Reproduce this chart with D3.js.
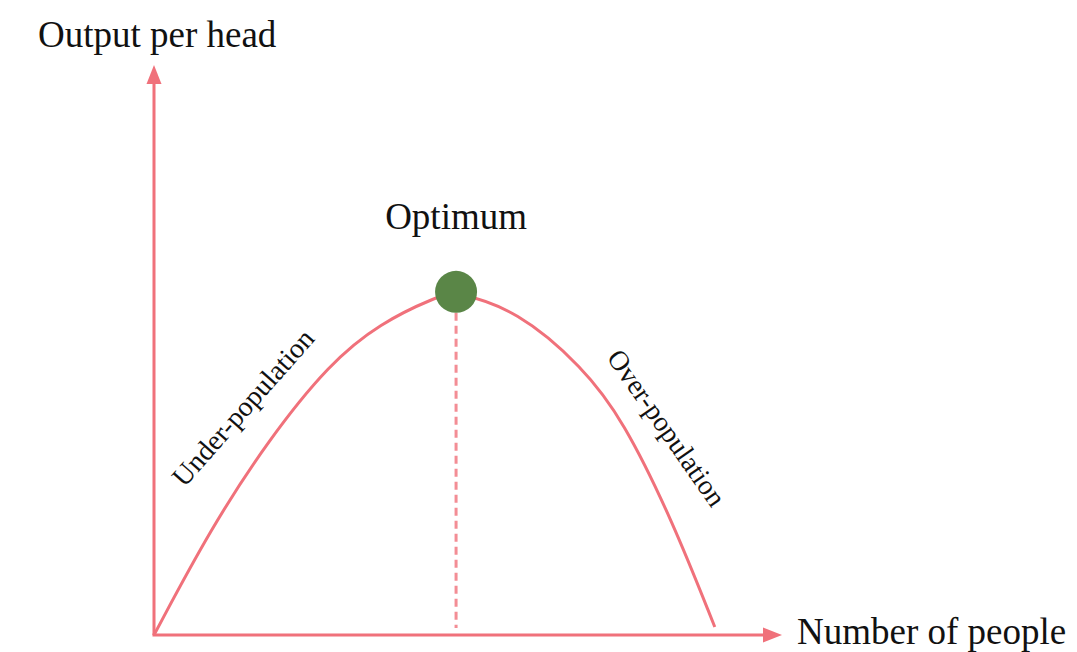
<!DOCTYPE html>
<html lang="en">
<head>
  <meta charset="UTF-8" />
  <title>Optimum population</title>
  <script src="https://d3js.org/d3.v7.min.js"></script>
  <style>
    body { margin: 0; background: #fff; }
    svg { display: block; }
    text { font-family: "Liberation Serif", "Times New Roman", serif; fill: #111; }
  </style>
</head>
<body>
  <svg width="1077" height="652"></svg>
  <script>
    // number of people (x) and output per head (y)
    const population = [0, 9.1, 18.2, 28.0, 36.0, 44.9, 48.1, 57.8, 68.3, 74.7, 82.5, 89.3];
    const output     = [0, 18.8, 34.2, 47.7, 54.7, 59.3, 60.2, 57.0, 47.0, 37.7, 20.2, 1.4];
    const peakIndex = 6;

    const axisLabels = ["Output per head", "Number of people"];
    const curveLabels = ["Under-population", "Over-population"];
    const peakLabel = "Optimum";

    const pink = "#f0717b";
    const green = "#5a8647";

    const svg = d3.select("svg");
    const x = d3.scaleLinear().domain([0, 100]).range([154, 782]);
    const y = d3.scaleLinear().domain([0, 100]).range([635, 65]);

    const points = population.map((p, i) => ({ p, o: output[i] }));

    // axes with arrow heads
    svg.append("line")
      .attr("x1", x(0)).attr("y1", y(0))
      .attr("x2", x(0)).attr("y2", y(100) + 16)
      .attr("stroke", pink).attr("stroke-width", 3);
    svg.append("line")
      .attr("x1", x(0) - 1.5).attr("y1", y(0))
      .attr("x2", x(100) - 16).attr("y2", y(0))
      .attr("stroke", pink).attr("stroke-width", 3);
    svg.append("path")
      .attr("d", `M${x(0)},${y(100)} L${x(0) - 7.5},${y(100) + 19} L${x(0) + 7.5},${y(100) + 19}Z`)
      .attr("fill", pink);
    svg.append("path")
      .attr("d", `M${x(100)},${y(0)} L${x(100) - 19},${y(0) - 7.5} L${x(100) - 19},${y(0) + 7.5}Z`)
      .attr("fill", pink);

    // curve
    const line = d3.line()
      .x(d => x(d.p))
      .y(d => y(d.o))
      .curve(d3.curveBasis);
    svg.append("path")
      .datum(points)
      .attr("d", line)
      .attr("fill", "none")
      .attr("stroke", pink)
      .attr("stroke-width", 3);

    // dashed drop line from the optimum
    const peak = points[peakIndex];
    svg.append("line")
      .attr("x1", x(peak.p)).attr("y1", y(peak.o) + 21)
      .attr("x2", x(peak.p)).attr("y2", y(0) - 7)
      .attr("stroke", pink).attr("stroke-opacity", 0.8)
      .attr("stroke-width", 3)
      .attr("stroke-dasharray", "8,5");

    svg.append("circle")
      .attr("cx", x(peak.p)).attr("cy", y(peak.o))
      .attr("r", 21)
      .attr("fill", green);

    svg.append("text")
      .attr("x", x(peak.p)).attr("y", y(peak.o) - 63)
      .attr("text-anchor", "middle")
      .attr("font-size", 37)
      .text(peakLabel);

    // axis titles
    svg.append("text")
      .attr("x", 38).attr("y", 47)
      .attr("font-size", 37)
      .text(axisLabels[0]);
    svg.append("text")
      .attr("x", 797).attr("y", 644)
      .attr("font-size", 37)
      .text(axisLabels[1]);

    // rotated labels along the curve
    svg.append("text")
      .attr("transform", `translate(${x(15.3)},${y(38.8)}) rotate(-48.5)`)
      .attr("text-anchor", "middle")
      .attr("font-size", 28)
      .text(curveLabels[0]);
    svg.append("text")
      .attr("transform", `translate(${x(80.4)},${y(35.4)}) rotate(55)`)
      .attr("text-anchor", "middle")
      .attr("font-size", 28)
      .text(curveLabels[1]);
  </script>
</body>
</html>
